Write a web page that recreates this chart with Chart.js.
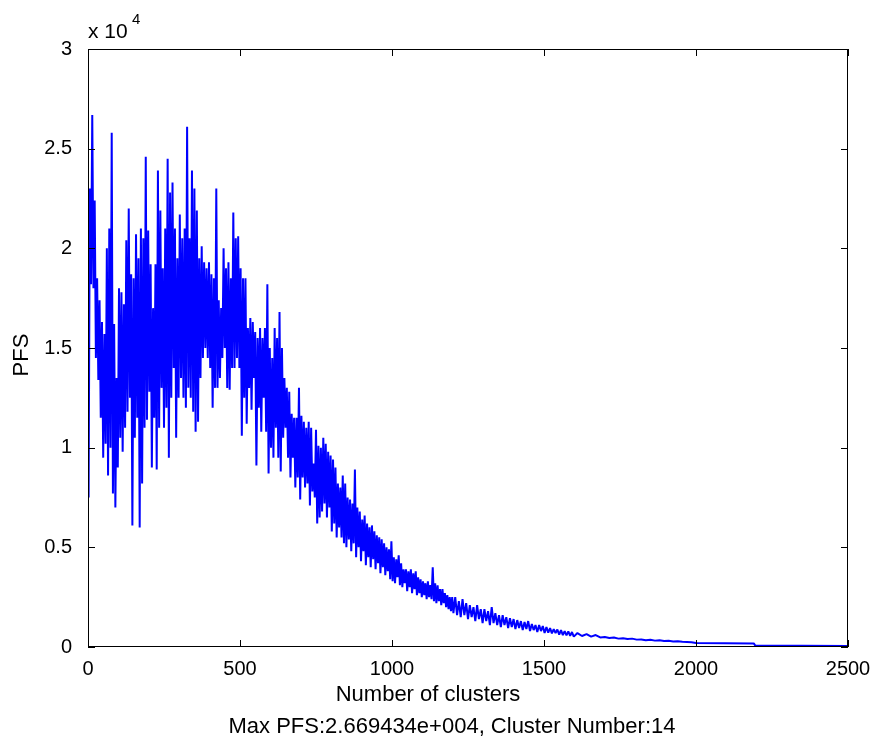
<!DOCTYPE html>
<html><head><meta charset="utf-8">
<script src="https://cdn.jsdelivr.net/npm/chart.js@4"></script>
<style>html,body{margin:0;padding:0;background:#fff}#wrap{width:876px;height:745px}</style>
</head><body><div id="wrap"><canvas id="c" width="876" height="745"></canvas></div>
<script>
// Dense part: clusters 2,6,10,... (step 4)
const denseStart = 2, denseStep = 4;
const densePFS = [
  7500, 23000, 18200, 26694, 18000, 22400, 14500, 18500, 13400, 17400,
  11500, 16300, 9500, 15700, 10200, 20000, 8600, 21000, 10000, 25800,
  7700, 16200, 7000, 13500, 9000, 18000, 10500, 17800, 9800, 17200,
  11000, 20400, 11800, 22000, 12500, 18700, 6100, 18500, 10500, 20700,
  11500, 19500, 6000, 21000, 8200, 20500, 11000, 24600, 11400, 20900,
  12800, 19200, 9000, 17000, 11500, 19200, 8900, 23900, 11000, 21900,
  13000, 19000, 11000, 21000, 12000, 24500, 9500, 22800, 12500, 23300,
  14000, 21000, 10500, 19500, 12500, 21700, 13500, 20500, 12500, 21000,
  12000, 26100, 13000, 20500, 12500, 23900, 11800, 23000, 10800, 21900,
  11300, 19500, 13500, 20100, 14500, 19300, 15000, 19000, 14500, 19300,
  14000, 18700, 12000, 18500, 13000, 23000, 13000, 17400, 13500, 17000,
  14500, 20000, 15000, 19000, 13000, 19300, 12900, 18500, 14000, 21800,
  14000, 20500, 14500, 20600, 14000, 19000, 10600, 18500, 12500, 18500,
  11200, 16000, 13000, 16500, 11900, 16300, 13500, 15800, 9100, 15500,
  12000, 16000, 10800, 15500, 12500, 16000, 10800, 18200, 8700, 15000,
  10000, 14500, 9500, 16000, 11000, 15500, 9500, 16800, 8800, 15000,
  10500, 13500, 11000, 13000, 9500, 12800, 8500, 11700, 9500, 11500,
  8000, 11500, 8500, 13000, 7400, 11600, 8500, 11300, 8000, 11000,
  8200, 11300, 7100, 11000, 7800, 9200, 7500, 10900, 6200, 10100,
  6500, 10000, 6800, 10500, 7200, 10200, 6500, 9800, 7000, 9600,
  5800, 9400, 6200, 9000, 5500, 8200, 6000, 8000, 5500, 8600,
  5200, 8200, 5000, 7500, 5400, 7400, 4800, 7200, 5200, 8900,
  4500, 7000, 5000, 6800, 4300, 6400, 4800, 6600, 4100, 6200,
  4500, 6000, 4000, 6100, 4400, 5800, 3900, 5600, 4200, 5500,
  3700, 5400, 4000, 5200, 3600, 5000, 3800, 4900, 3400, 5300,
  3300, 4500, 3200, 4400, 3500, 4600, 3100, 4200, 3000, 3900,
  3200, 3900, 2800, 3800, 3000, 3900, 2700, 3700, 2900, 3800,
  2600, 3500, 2700, 3400, 2500, 3300, 2600, 3200, 2400, 3300,
  2500, 3100, 2400, 4000, 2300, 3200, 2200, 3100, 2300, 2900,
  2100, 2900, 2200, 2700, 2000, 2600, 1900, 2500, 1800, 2500
];
// Middle part: clusters 1202,1208,... (step 6)
const midStart = 1202, midStep = 6;
const midPFS = [
  1700, 2500, 1600, 2300, 1500, 2400, 1600, 2200, 1400, 2100,
  1500, 2000, 1300, 2100, 1400, 1900, 1200, 1900, 1300, 1800,
  1100, 2000, 1200, 1700, 1100, 1600, 1000, 1600, 1100, 1500,
  950, 1450, 1000, 1400, 900, 1350, 950, 1300, 850, 1250,
  900, 1300, 800, 1150, 850, 1100, 750, 1100, 800, 1050,
  700, 1000, 720, 950, 680, 900, 700, 880, 620, 850,
  600, 800, 580, 780, 560, 750, 520
];
// Low part: clusters 1610,1625,... (step 15)
const lowStart = 1610, lowStep = 15;
const lowPFS = [
  700, 550, 650, 520, 600, 480, 500, 450, 480, 420,
  440, 400, 420, 370, 380, 340, 360, 320, 340, 300,
  310, 280, 290, 260, 250, 240
];
// Tail
const tailClusters = [2000, 2190, 2195, 2500];
const tailPFS = [200, 180, 70, 50];

const xTicks = [0, 500, 1000, 1500, 2000, 2500];
const yTicks = [0, 5000, 10000, 15000, 20000, 25000, 30000];
const xLabel = 'Number of clusters';
const yLabel = 'PFS';
const caption = 'Max PFS:2.669434e+004, Cluster Number:14';

const points = [];
densePFS.forEach((v, i) => points.push({x: denseStart + i * denseStep, y: v}));
midPFS.forEach((v, i) => points.push({x: midStart + i * midStep, y: v}));
lowPFS.forEach((v, i) => points.push({x: lowStart + i * lowStep, y: v}));
tailPFS.forEach((v, i) => points.push({x: tailClusters[i], y: v}));

const FONT = '"Liberation Sans", Arial, Helvetica, sans-serif';

const matlabAxes = {
  id: 'matlabAxes',
  afterDatasetsDraw(chart) {
    const {ctx, chartArea: a, scales} = chart;
    ctx.save();
    ctx.strokeStyle = '#000';
    ctx.lineWidth = 1;
    ctx.strokeRect(a.left + 0.5, a.top + 0.5, a.right - a.left - 1, a.bottom - a.top - 1);
    const tl = 7;
    ctx.beginPath();
    xTicks.forEach(v => {
      const px = Math.round(scales.x.getPixelForValue(v)) + 0.5;
      ctx.moveTo(px, a.bottom); ctx.lineTo(px, a.bottom - tl);
      ctx.moveTo(px, a.top); ctx.lineTo(px, a.top + tl);
    });
    yTicks.forEach(v => {
      const py = Math.round(scales.y.getPixelForValue(v)) + 0.5;
      ctx.moveTo(a.left, py); ctx.lineTo(a.left + tl, py);
      ctx.moveTo(a.right, py); ctx.lineTo(a.right - tl, py);
    });
    ctx.stroke();
    ctx.restore();
  },
  afterDraw(chart) {
    const {ctx, chartArea: a} = chart;
    ctx.save();
    ctx.fillStyle = '#000';
    ctx.textBaseline = 'alphabetic';
    ctx.textAlign = 'left';
    ctx.font = '21px ' + FONT;
    ctx.fillText('x 10', a.left, 38);
    ctx.font = '15px ' + FONT;
    ctx.fillText('4', a.left + 44, 24);
    ctx.textAlign = 'center';
    ctx.font = '22px ' + FONT;
    ctx.fillText(xLabel, 428, 701);
    ctx.fillText(caption, 452, 733);
    ctx.translate(22, 355);
    ctx.rotate(-Math.PI / 2);
    ctx.textBaseline = 'middle';
    ctx.fillText(yLabel, 0, 0);
    ctx.restore();
  }
};

new Chart(document.getElementById('c'), {
  type: 'line',
  data: {
    datasets: [{
      data: points,
      borderColor: '#0000ff',
      borderWidth: 2,
      borderJoinStyle: 'bevel',
      pointRadius: 0,
      fill: false,
      tension: 0
    }]
  },
  options: {
    responsive: false,
    animation: false,
    devicePixelRatio: 1,
    events: [],
    layout: {padding: {top: 49, right: 28, left: 0, bottom: 0}},
    plugins: {legend: {display: false}, tooltip: {enabled: false}},
    scales: {
      x: {
        type: 'linear', min: 0, max: 2500,
        afterBuildTicks: s => { s.ticks = xTicks.map(v => ({value: v})); },
        afterFit: s => { s.height = 98; },
        grid: {display: false},
        border: {display: false},
        ticks: {color: '#000', font: {size: 20, family: FONT}, padding: 2, maxRotation: 0, autoSkip: false,
          callback: v => String(v)}
      },
      y: {
        type: 'linear', min: 0, max: 30000,
        afterBuildTicks: s => { s.ticks = yTicks.map(v => ({value: v})); },
        afterFit: s => { s.width = 88; },
        grid: {display: false},
        border: {display: false},
        ticks: {color: '#000', font: {size: 20, family: FONT}, padding: 8, autoSkip: false,
          callback: v => String(v / 10000)}
      }
    }
  },
  plugins: [matlabAxes]
});
</script>
</body></html>
